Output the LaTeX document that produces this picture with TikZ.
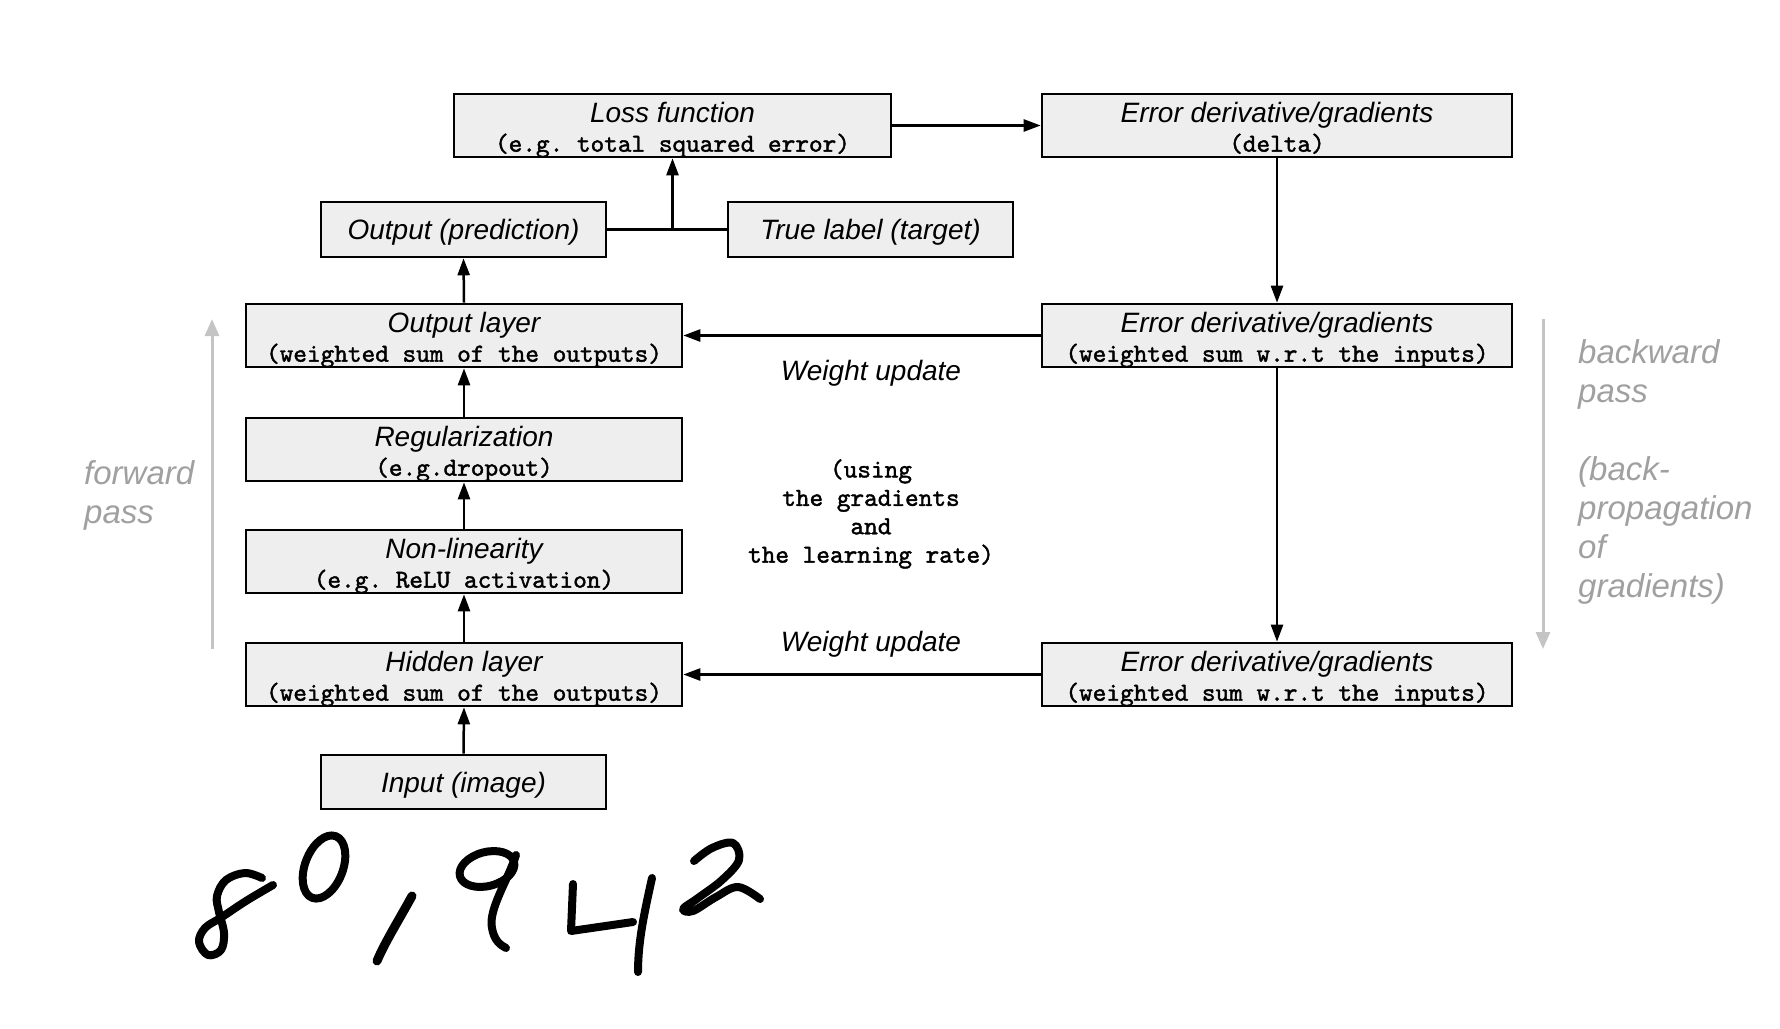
\documentclass[tikz,border=0pt]{standalone}
\usepackage{fontspec}
\setmainfont{Liberation Sans}
\newfontfamily\monofnt{lmmono10-regular.otf}[FakeBold=1.6]
\usetikzlibrary{arrows.meta}
\definecolor{boxfill}{HTML}{EEEEEE}
\definecolor{passgray}{HTML}{A0A0A0}
\definecolor{arrowgray}{HTML}{C4C4C4}
\begin{document}
\begin{tikzpicture}[x=1pt,y=-1pt,
 box/.style={draw=black, line width=2.6pt, fill=boxfill, inner sep=0pt, minimum height=63pt},
 boxw/.style={box, minimum width=436pt},
 boxe/.style={box, minimum width=470pt},
 box1/.style={box, minimum width=285pt, minimum height=55pt},
 tit/.style={font=\fontsize{28}{32}\selectfont\itshape, inner sep=0pt, anchor=base},
 sub/.style={font=\monofnt\frenchspacing\fontsize{26}{28.4}\selectfont, inner sep=0pt, anchor=base},
 arr/.style={line width=2.5pt, -{Triangle[length=17pt,width=12pt]}},
 conn/.style={line width=2.5pt},
 garr/.style={line width=3pt, arrowgray, -{Triangle[length=17pt,width=14pt]}},
 gtext/.style={font=\fontsize{33}{39}\selectfont\itshape, text=passgray, inner sep=0pt, align=left, anchor=north west},
 digit/.style={line width=8pt, line cap=round, line join=round}
]
\useasboundingbox (0,0) rectangle (1780,1028);

% boxes
\node[box, minimum width=437pt] (loss) at (672.5,125.5) {};
\node[boxe] (errd) at (1277,125.5) {};
\node[box1] (pred) at (463.5,229.5) {};
\node[box1] (truel) at (870.5,229.5) {};
\node[boxw] (outl) at (464,335.5) {};
\node[boxe] (erru) at (1277,335.5) {};
\node[boxw] (reg) at (464,449.5) {};
\node[boxw] (nonlin) at (464,561.5) {};
\node[boxw] (hid) at (464,674.5) {};
\node[boxe] (errl) at (1277,674.5) {};
\node[box1, minimum height=54pt] (inp) at (463.5,782) {};

% box texts
\node[tit] (lossT) at ([yshift=-30pt]loss.north) {Loss function};
\node[sub] (lossS) at ([yshift=-59pt]loss.north) {(e.g. total squared error)};
\node[tit] (errdT) at ([yshift=-30pt]errd.north) {Error derivative/gradients};
\node[sub] (errdS) at ([yshift=-59pt]errd.north) {(delta)};
\node[tit] (predT) at ([yshift=-10pt]pred.center) {Output (prediction)};
\node[tit] (truelT) at ([yshift=-10pt]truel.center) {True label (target)};
\node[tit] (outlT) at ([yshift=-30pt]outl.north) {Output layer};
\node[sub] (outlS) at ([yshift=-59pt]outl.north) {(weighted sum of the outputs)};
\node[tit] (erruT) at ([yshift=-30pt]erru.north) {Error derivative/gradients};
\node[sub] (erruS) at ([yshift=-59pt]erru.north) {(weighted sum w.r.t the inputs)};
\node[tit] (regT) at ([yshift=-30pt]reg.north) {Regularization};
\node[sub] (regS) at ([yshift=-59pt]reg.north) {(e.g.dropout)};
\node[tit] (nonlinT) at ([yshift=-30pt]nonlin.north) {Non-linearity};
\node[sub] (nonlinS) at ([yshift=-59pt]nonlin.north) {(e.g. ReLU activation)};
\node[tit] (hidT) at ([yshift=-30pt]hid.north) {Hidden layer};
\node[sub] (hidS) at ([yshift=-59pt]hid.north) {(weighted sum of the outputs)};
\node[tit] (errlT) at ([yshift=-30pt]errl.north) {Error derivative/gradients};
\node[sub] (errlS) at ([yshift=-59pt]errl.north) {(weighted sum w.r.t the inputs)};
\node[tit] (inpT) at ([yshift=-10pt]inp.center) {Input (image)};

% middle labels
\node[tit] (wu1) at (871,380) {Weight update};
\node[tit] (wu2) at (871,651) {Weight update};
\node[sub, anchor=center, align=center] (using) at (871,514) {(using\\the gradients\\and\\the learning rate)};

% connectors
\draw[arr] (loss.east) -- (errd.west);
\draw[conn] (pred.east) -- (truel.west);
\coordinate (junc) at (loss.south |- pred.east);
\draw[arr] (junc) -- (loss.south);
\draw[arr] (outl.north) -- (pred.south);
\draw[arr] (reg.north) -- (outl.south);
\draw[arr] (nonlin.north) -- (reg.south);
\draw[arr] (hid.north) -- (nonlin.south);
\draw[arr] (inp.north) -- (hid.south);
\draw[arr] (errd.south) -- (erru.north);
\draw[arr] (erru.south) -- (errl.north);
\draw[arr] (erru.west) -- (outl.east);
\draw[arr] (errl.west) -- (hid.east);

% pass arrows and labels
\coordinate (fwA) at (212,649);
\coordinate (fwB) at (212,319);
\draw[garr] (fwA) -- (fwB);
\coordinate (bwA) at (1543,319);
\coordinate (bwB) at (1543,649);
\draw[garr] (bwA) -- (bwB);
\node[gtext] (fwT) at (84,460) {forward\\pass};
\node[gtext] (bwT) at (1578,339) {backward\\pass\\[39pt](back-\\propagation\\of\\gradients)};

% handwritten digits
\draw[digit] plot[smooth, tension=0.6] coordinates {(273,885) (246,901) (222,917) (205,928) (199,942) (208,955) (221,950) (224,933) (219,912) (217,896) (226,880) (245,873) (262,878)};
\draw[digit, rotate around={-21:(324,867)}] (324,867) ellipse [x radius=19pt, y radius=33pt];
\draw[digit, line width=9pt] (412,896) .. controls (400,918) and (385,942) .. (377,961);
\draw[digit, rotate around={15:(487,869)}] (487,869) ellipse [x radius=28pt, y radius=17pt];
\draw[digit] (516,855) .. controls (508,880) and (488,910) .. (492,928) .. controls (494,940) and (500,945) .. (506,948);
\draw[digit] (573,884) -- (571,931) -- (633,922);
\draw[digit] (652,878) .. controls (645,910) and (638,940) .. (638,972);
\draw[digit] plot[smooth, tension=0.6] coordinates {(694,861) (712,848) (733,843) (739,860) (722,880) (698,898) (683,909) (693,911) (716,897) (738,887) (760,899)};
\end{tikzpicture}
\end{document}
